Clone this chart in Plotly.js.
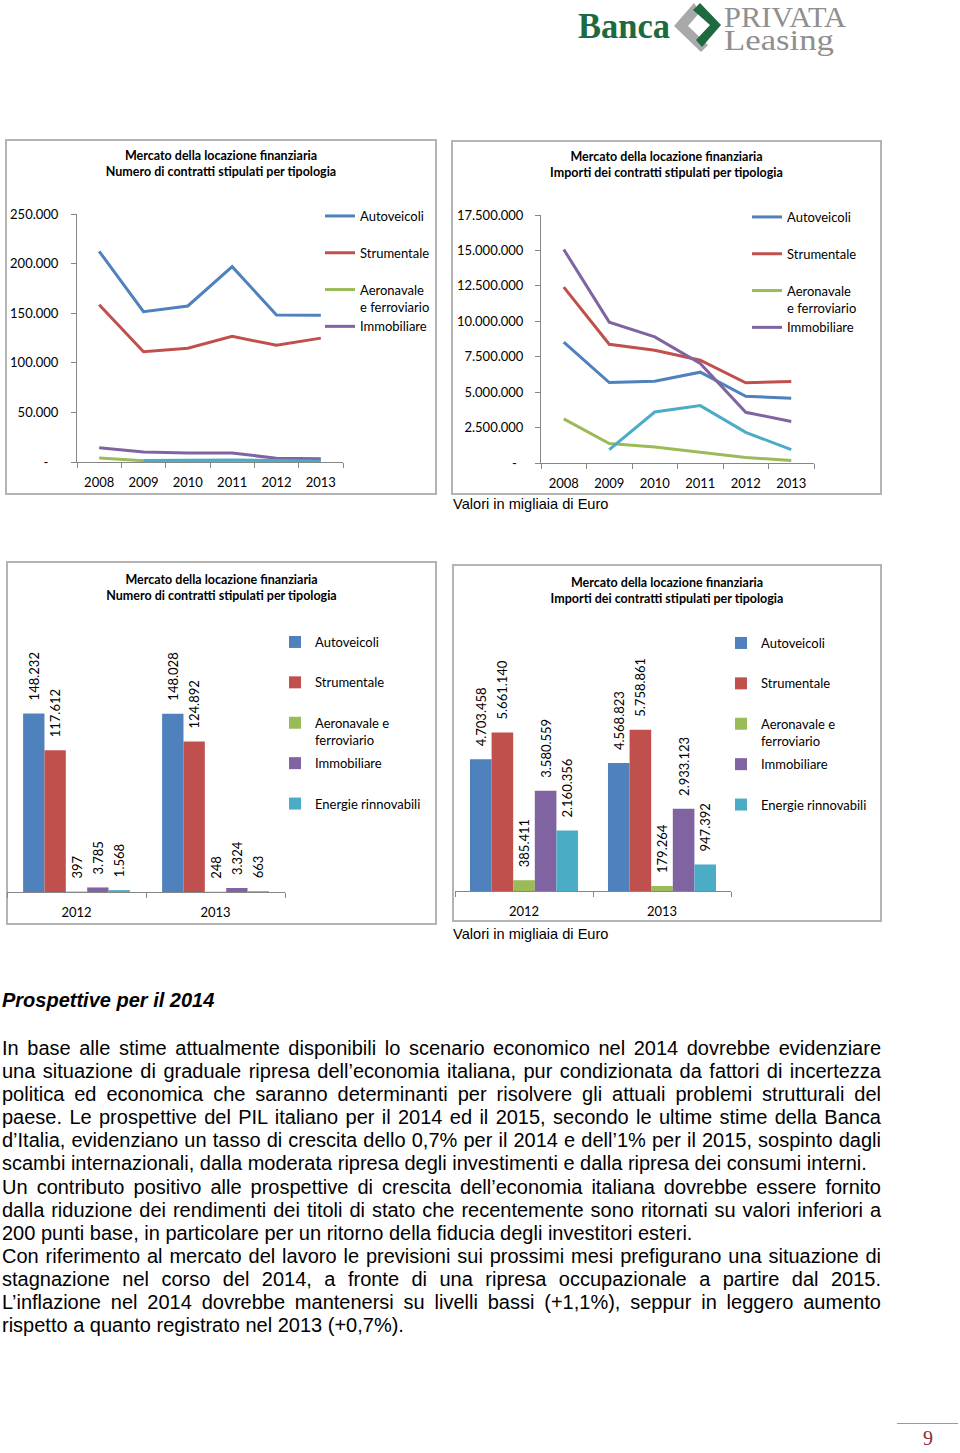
<!DOCTYPE html>
<html><head><meta charset="utf-8">
<script src="https://cdn.plot.ly/plotly-3.0.1.min.js"></script>
<style>
body{margin:0;background:#fff;width:960px;height:1453px;position:relative;overflow:hidden;font-family:"Liberation Sans",Arial,sans-serif;color:#000;}
.box{position:absolute;outline:2px solid #b4b4b4;outline-offset:-2px;}
.note{position:absolute;font-size:14.6px;line-height:17px;white-space:nowrap;}
.txt{position:absolute;left:2px;width:879px;font-size:20px;line-height:23.1px;}
.txt div{white-space:nowrap;}
.j{text-align:justify;text-align-last:justify;}
h2{position:absolute;left:2px;top:989px;margin:0;font-size:20px;line-height:23px;font-weight:bold;font-style:italic;}
</style></head><body>

<svg style="position:absolute;left:0;top:0" width="960" height="62">
 <text x="578" y="38" font-family="Liberation Serif" font-weight="bold" font-size="35" fill="#1d6a40" textLength="92" lengthAdjust="spacingAndGlyphs">Banca</text>
 <polygon points="694,3 674,26 701,52 708,45 688,26 700,12" fill="#a9a9a9"/>
 <polygon points="700,3 721,25 702,47 696,40 710,25 693,10" fill="#1d6a40"/>
 <text x="724" y="27" font-family="Liberation Serif" font-size="30" fill="#8f8f8f" textLength="122" lengthAdjust="spacingAndGlyphs">PRIVATA</text>
 <text x="724" y="50" font-family="Liberation Serif" font-size="29" fill="#8f8f8f" textLength="110" lengthAdjust="spacingAndGlyphs">Leasing</text>
</svg>

<div id="c1" class="box" style="left:5px;top:139px;width:432px;height:356px"></div>
<div id="c2" class="box" style="left:451px;top:140px;width:431px;height:355px"></div>
<div class="note" style="left:453px;top:496px">Valori in migliaia di Euro</div>
<div id="c3" class="box" style="left:6px;top:561px;width:431px;height:364px"></div>
<div id="c4" class="box" style="left:452px;top:564px;width:430px;height:358px"></div>
<div class="note" style="left:453px;top:926px">Valori in migliaia di Euro</div>

<h2>Prospettive per il 2014</h2>
<div class="txt" style="top:1037px">
<div class="j">In base alle stime attualmente disponibili lo scenario economico nel 2014 dovrebbe evidenziare</div>
<div class="j">una situazione di graduale ripresa dell’economia italiana, pur condizionata da fattori di incertezza</div>
<div class="j">politica ed economica che saranno determinanti per risolvere gli attuali problemi strutturali del</div>
<div class="j">paese. Le prospettive del PIL italiano per il 2014 ed il 2015, secondo le ultime stime della Banca</div>
<div class="j">d’Italia, evidenziano un tasso di crescita dello 0,7% per il 2014 e dell’1% per il 2015, sospinto dagli</div>
<div>scambi internazionali, dalla moderata ripresa degli investimenti e dalla ripresa dei consumi interni.</div>
<div class="j">Un contributo positivo alle prospettive di crescita dell’economia italiana dovrebbe essere fornito</div>
<div class="j">dalla riduzione dei rendimenti dei titoli di stato che recentemente sono ritornati su valori inferiori a</div>
<div>200 punti base, in particolare per un ritorno della fiducia degli investitori esteri.</div>
<div class="j">Con riferimento al mercato del lavoro le previsioni sui prossimi mesi prefigurano una situazione di</div>
<div class="j">stagnazione nel corso del 2014, a fronte di una ripresa occupazionale a partire dal 2015.</div>
<div class="j">L’inflazione nel 2014 dovrebbe mantenersi su livelli bassi (+1,1%), seppur in leggero aumento</div>
<div>rispetto a quanto registrato nel 2013 (+0,7%).</div>
</div>

<div style="position:absolute;left:897px;top:1423px;width:61px;height:1px;background:#9a9a9a"></div>
<div style="position:absolute;left:918px;top:1426px;width:20px;text-align:center;font-family:'Liberation Serif',serif;font-size:20px;line-height:24px;color:#8b2c3c">9</div>

<script>
// ---- data ----
const YEARS = ['2008', '2009', '2010', '2011', '2012', '2013'];
const BAR_YEARS = ['2012', '2013'];
const SERIES_NAMES = ['Autoveicoli', 'Strumentale', 'Aeronavale e ferroviario', 'Immobiliare', 'Energie rinnovabili'];

// Numero di contratti (line chart, 2008-2013)
const NUM_AUTOVEICOLI  = [212400, 151500, 157300, 196900, 148232, 148028];
const NUM_STRUMENTALE  = [158600, 111200, 114600, 126700, 117612, 124892];
const NUM_AERONAVALE   = [4000, 1300, 900, 700, 397, 248];
const NUM_IMMOBILIARE  = [14400, 10000, 9000, 9000, 3785, 3324];
const NUM_ENERGIE      = [null, 1500, 1800, 1900, 1568, 663];

// Importi (migliaia di Euro, line chart, 2008-2013)
const IMP_AUTOVEICOLI  = [8530000, 5680000, 5770000, 6410000, 4703458, 4568823];
const IMP_STRUMENTALE  = [12410000, 8380000, 7960000, 7250000, 5661140, 5758861];
const IMP_AERONAVALE   = [3110000, 1370000, 1130000, 780000, 385411, 179264];
const IMP_IMMOBILIARE  = [15070000, 9940000, 8900000, 7020000, 3580559, 2933123];
const IMP_ENERGIE      = [null, 940000, 3600000, 4050000, 2160356, 947392];

// Bar charts (2012, 2013)
const BAR_NUM_AUTOVEICOLI = [148232, 148028];
const BAR_NUM_STRUMENTALE = [117612, 124892];
const BAR_NUM_AERONAVALE  = [397, 248];
const BAR_NUM_IMMOBILIARE = [3785, 3324];
const BAR_NUM_ENERGIE     = [1568, 663];

const BAR_IMP_AUTOVEICOLI = [4703458, 4568823];
const BAR_IMP_STRUMENTALE = [5661140, 5758861];
const BAR_IMP_AERONAVALE  = [385411, 179264];
const BAR_IMP_IMMOBILIARE = [3580559, 2933123];
const BAR_IMP_ENERGIE     = [2160356, 947392];

// tick labels
const Y1_TICKVALS = [0, 50000, 100000, 150000, 200000, 250000];
const Y1_TICKTEXT = ['-\u00a0\u00a0\u00a0', '50.000', '100.000', '150.000', '200.000', '250.000'];
const Y2_TICKVALS = [0, 2500000, 5000000, 7500000, 10000000, 12500000, 15000000, 17500000];
const Y2_TICKTEXT = ['-\u00a0\u00a0', '2.500.000', '5.000.000', '7.500.000', '10.000.000', '12.500.000', '15.000.000', '17.500.000'];

const TITLE_NUM = 'Mercato della locazione finanziaria<br>Numero di contratti stipulati per tipologia';
const TITLE_IMP = 'Mercato della locazione finanziaria<br>Importi dei contratti stipulati per tipologia';

// ---- styles ----
const COLORS = ['#4F81BD', '#C0504D', '#9BBB59', '#8064A2', '#4BACC6'];
const AXIS = '#868686';
const FONT = 'Lato, "Open Sans", sans-serif';
const LINE_LEGEND = ['Autoveicoli<br>\u00a0', 'Strumentale<br>\u00a0', 'Aeronavale<br>e ferroviario', 'Immobiliare', 'Energie rinnovabili'];
const BAR_LEGEND = ['Autoveicoli<br>\u00a0', 'Strumentale<br>\u00a0', 'Aeronavale e<br>ferroviario', 'Immobiliare<br>\u00a0', 'Energie rinnovabili'];
const CFG = {staticPlot: true, displayModeBar: false};

function titleObj(text, h, top) {
  return {text: text, font: {family: FONT, size: 12.5, weight: 'bold', color: '#000'},
    x: 0.5, xref: 'container', xanchor: 'center', y: 1 - top / h, yref: 'container', yanchor: 'top'};
}

function lineChart(id, w, h, m, title, vals, ytv, ytt, yrange, legX, legTop, ystand) {
  const traces = vals.map((v, i) => ({
    type: 'scatter', mode: 'lines', x: YEARS, y: v, name: LINE_LEGEND[i],
    line: {color: COLORS[i], width: 3}, showlegend: i < 4, legendgroup: 'g' + i,
    connectgaps: false, hoverinfo: 'skip'
  }));
  const layout = {
    width: w, height: h, margin: m,
    paper_bgcolor: 'rgba(0,0,0,0)', plot_bgcolor: 'rgba(0,0,0,0)',
    font: {family: FONT, size: 13, color: '#000'},
    title: titleObj(title, h, 21),
    xaxis: {type: 'category', range: [-0.5, 5.5], tickson: 'boundaries', ticks: 'outside', ticklen: 5,
      tickcolor: AXIS, showline: true, linecolor: AXIS, linewidth: 1, showgrid: false, zeroline: false,
      tickangle: 0, ticklabelstandoff: 8, automargin: false, fixedrange: true},
    yaxis: {range: yrange, tickvals: ytv, ticktext: ytt, ticks: 'outside', ticklen: 5, tickcolor: AXIS,
      showline: true, linecolor: AXIS, linewidth: 1, showgrid: false, zeroline: false,
      ticklabelstandoff: ystand, automargin: false, fixedrange: true},
    showlegend: true,
    legend: {x: legX / w, xref: 'container', xanchor: 'left', y: 1 - legTop / h, yref: 'container', yanchor: 'top',
      valign: 'top', traceorder: 'grouped', tracegroupgap: 0, maxheight: 300, bgcolor: 'rgba(0,0,0,0)',
      font: {family: FONT, size: 13, color: '#000'}}
  };
  Plotly.newPlot(id, traces, layout, CFG);
}

function barChart(id, w, h, m, title, vals, ymax, bargap, legX, legTop, gap) {
  const traces = vals.map((v, i) => ({
    type: 'bar', x: BAR_YEARS, y: v, name: BAR_LEGEND[i], marker: {color: COLORS[i]},
    texttemplate: '\u00a0\u00a0\u00a0%{y:,d}', textposition: 'outside', textangle: -90,
    constraintext: 'none', cliponaxis: false, legendgroup: 'g' + i, hoverinfo: 'skip',
    outsidetextfont: {family: FONT, size: 13, color: '#000'}
  }));
  const layout = {
    width: w, height: h, margin: m, separators: ',.',
    paper_bgcolor: 'rgba(0,0,0,0)', plot_bgcolor: 'rgba(0,0,0,0)',
    font: {family: FONT, size: 13, color: '#000'},
    title: titleObj(title, h, 23),
    barmode: 'group', bargap: bargap, bargroupgap: 0,
    xaxis: {type: 'category', range: [-0.5, 1.5], tickson: 'boundaries', ticks: 'outside', ticklen: 5,
      tickcolor: AXIS, showline: true, linecolor: AXIS, linewidth: 1, showgrid: false,
      tickangle: 0, ticklabelstandoff: 8, automargin: false, fixedrange: true},
    yaxis: {range: [0, ymax], visible: false, fixedrange: true},
    showlegend: true,
    legend: {x: legX / w, xref: 'container', xanchor: 'left', y: 1 - legTop / h, yref: 'container', yanchor: 'top',
      valign: 'top', traceorder: 'grouped', tracegroupgap: gap, maxheight: 300, bgcolor: 'rgba(0,0,0,0)',
      font: {family: FONT, size: 13, color: '#000'}}
  };
  Plotly.newPlot(id, traces, layout, CFG);
}

lineChart('c1', 432, 356, {l: 72, r: 94, t: 75, b: 33, pad: 0, autoexpand: false}, TITLE_NUM,
  [NUM_AUTOVEICOLI, NUM_STRUMENTALE, NUM_AERONAVALE, NUM_IMMOBILIARE, NUM_ENERGIE],
  Y1_TICKVALS, Y1_TICKTEXT, [0, 250000], 315, 62, 10);

lineChart('c2', 431, 355, {l: 90, r: 68, t: 75, b: 32, pad: 0, autoexpand: false}, TITLE_IMP,
  [IMP_AUTOVEICOLI, IMP_STRUMENTALE, IMP_AERONAVALE, IMP_IMMOBILIARE, IMP_ENERGIE],
  Y2_TICKVALS, Y2_TICKTEXT, [0, 17500000], 296, 62, 9);

barChart('c3', 431, 364, {l: 1, r: 152, t: 90, b: 33, pad: 0, autoexpand: false}, TITLE_NUM,
  [BAR_NUM_AUTOVEICOLI, BAR_NUM_STRUMENTALE, BAR_NUM_AERONAVALE, BAR_NUM_IMMOBILIARE, BAR_NUM_ENERGIE],
  200000, 0.232, 269, 66, 3.6);

barChart('c4', 430, 358, {l: 3, r: 151, t: 103, b: 31, pad: 0, autoexpand: false}, TITLE_IMP,
  [BAR_IMP_AUTOVEICOLI, BAR_IMP_STRUMENTALE, BAR_IMP_AERONAVALE, BAR_IMP_IMMOBILIARE, BAR_IMP_ENERGIE],
  8000000, 0.217, 269, 64, 3.6);
</script>
</body></html>
